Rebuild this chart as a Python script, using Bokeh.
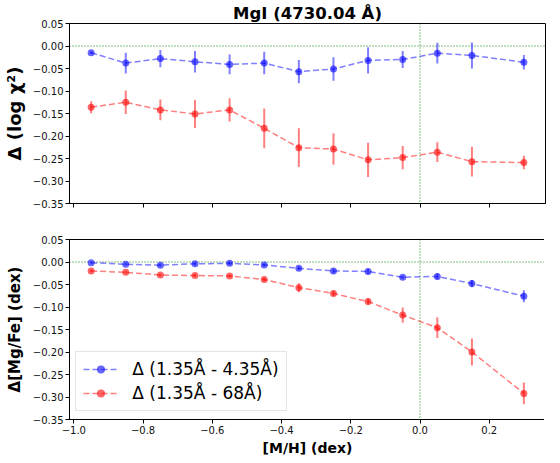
import numpy as np
from bokeh.plotting import figure
from bokeh.layouts import column
from bokeh.models import Span, Legend, LegendItem, FixedTicker, Range1d, ColumnDataSource
from bokeh.embed import file_html
from bokeh.resources import INLINE

# ---- data ----
mh = [-0.95, -0.85, -0.75, -0.65, -0.55, -0.45, -0.35, -0.25, -0.15, -0.05, 0.05, 0.15, 0.30]

chi_blue = [-0.015, -0.038, -0.028, -0.035, -0.041, -0.038, -0.057, -0.051, -0.032, -0.030, -0.016, -0.021, -0.036]
chi_blue_err = [0.003, 0.023, 0.019, 0.024, 0.022, 0.025, 0.026, 0.026, 0.029, 0.019, 0.023, 0.029, 0.016]
chi_red = [-0.136, -0.125, -0.142, -0.151, -0.142, -0.183, -0.226, -0.229, -0.253, -0.248, -0.236, -0.257, -0.259]
chi_red_err = [0.0135, 0.026, 0.023, 0.031, 0.026, 0.044, 0.043, 0.035, 0.038, 0.026, 0.022, 0.033, 0.015]

mgfe_blue = [-0.0015, -0.005, -0.007, -0.004, -0.003, -0.0066, -0.014, -0.020, -0.021, -0.034, -0.032, -0.048, -0.076]
mgfe_blue_err = [0.002, 0.003, 0.003, 0.003, 0.003, 0.003, 0.004, 0.005, 0.006, 0.003, 0.007, 0.008, 0.0135]
mgfe_red = [-0.020, -0.023, -0.029, -0.030, -0.031, -0.039, -0.057, -0.070, -0.088, -0.118, -0.146, -0.200, -0.292]
mgfe_red_err = [0.003, 0.003, 0.003, 0.003, 0.003, 0.004, 0.010, 0.006, 0.007, 0.017, 0.023, 0.030, 0.024]

x_ticks = [-1.0, -0.8, -0.6, -0.4, -0.2, 0.0, 0.2]
x_tick_labels = ["\u22121.0", "\u22120.8", "\u22120.6", "\u22120.4", "\u22120.2", "0.0", "0.2"]
y_ticks = [0.05, 0.0, -0.05, -0.10, -0.15, -0.20, -0.25, -0.30, -0.35]
y_tick_labels = ["0.05", "0.00", "\u22120.05", "\u22120.10", "\u22120.15", "\u22120.20", "\u22120.25", "\u22120.30", "\u22120.35"]

legend_labels = ["\u0394 (1.35\u00c5 - 4.35\u00c5)", "\u0394 (1.35\u00c5 - 68\u00c5)"]
title_text = "MgI (4730.04 \u00c5)"
ylabel_top = "\u0394 (log \u03c7\u00b2)"
ylabel_bottom = "\u0394[Mg/Fe] (dex)"
xlabel = "[M/H] (dex)"

BLUE = "#0000ff"
RED = "#ff0000"
FONT = "DejaVu Sans"


def make_fig(top, bottom, show_xlabels):
    p = figure(frame_width=476, frame_height=180, output_backend="svg", toolbar_location=None,
               x_range=Range1d(-1.0125, 0.3625), y_range=Range1d(-0.35, 0.05),
               min_border_left=67, min_border_right=1, min_border_top=top, min_border_bottom=bottom)
    p.grid.visible = False
    p.outline_line_color = "black"
    p.outline_line_width = 1
    p.background_fill_color = "white"
    p.border_fill_color = "white"
    for ax in (p.xaxis[0], p.yaxis[0]):
        ax.axis_line_color = "black"
        ax.major_tick_out = 4
        ax.major_tick_in = 0
        ax.minor_tick_out = 0
        ax.minor_tick_in = 0
        ax.major_label_text_font = FONT
        ax.major_label_text_font_size = "10px"
        ax.major_label_text_color = "#111111"
        ax.major_label_standoff = 2
        ax.axis_label_text_font = FONT
        ax.axis_label_text_font_style = "bold"
        ax.axis_label_text_color = "black"
    p.xaxis.ticker = FixedTicker(ticks=x_ticks)
    p.yaxis.ticker = FixedTicker(ticks=y_ticks)
    p.yaxis.major_label_overrides = {t: l for t, l in zip(y_ticks, y_tick_labels)}
    if show_xlabels:
        p.xaxis.major_label_overrides = {t: l for t, l in zip(x_ticks, x_tick_labels)}
    else:
        p.xaxis.major_label_overrides = {t: "" for t in x_ticks}
    p.add_layout(Span(location=0, dimension="width", line_color="green", line_dash="1 2", line_width=1, level="underlay"))
    p.add_layout(Span(location=0, dimension="height", line_color="green", line_dash="1 2", line_width=1, level="underlay"))
    return p


def draw_series(p, y, err, color):
    y = np.array(y)
    e = np.array(err)
    src = ColumnDataSource(dict(x=mh, y=y, lo=y - e, hi=y + e))
    p.segment(x0="x", y0="lo", x1="x", y1="hi", source=src, line_color=color, line_alpha=0.5, line_width=2)
    ln = p.line("x", "y", source=src, line_color=color, line_alpha=0.5, line_width=1.5, line_dash="6 3")
    sc = p.scatter("x", "y", source=src, size=7, fill_color=color, fill_alpha=0.6, line_color=color, line_alpha=0.0)
    return ln, sc


p1 = make_fig(16, 18, False)
p1.title.text = title_text
p1.title.align = "center"
p1.title.text_font = FONT
p1.title.text_font_size = "16.5px"
p1.title.text_font_style = "bold"
p1.title.text_color = "black"
p1.title.standoff = 2
p1.title.offset = 0
p1.yaxis.axis_label = ylabel_top
p1.yaxis.axis_label_text_font_size = "18px"
p1.yaxis.axis_label_standoff = 5
draw_series(p1, chi_blue, chi_blue_err, BLUE)
draw_series(p1, chi_red, chi_red_err, RED)

p2 = make_fig(18, 30, True)
p2.yaxis.axis_label = ylabel_bottom
p2.yaxis.axis_label_text_font_size = "15px"
p2.yaxis.axis_label_standoff = 6
p2.xaxis.axis_label = xlabel
p2.xaxis.axis_label_text_font_size = "14px"
p2.xaxis.axis_label_standoff = 3
b_ln, b_sc = draw_series(p2, mgfe_blue, mgfe_blue_err, BLUE)
r_ln, r_sc = draw_series(p2, mgfe_red, mgfe_red_err, RED)

legend = Legend(items=[LegendItem(label=legend_labels[0], renderers=[b_ln, b_sc]),
                       LegendItem(label=legend_labels[1], renderers=[r_ln, r_sc])],
                location="bottom_left", margin=8, padding=7, spacing=4,
                glyph_width=35, glyph_height=20, label_height=20, label_standoff=14,
                label_text_font=FONT, label_text_font_size="17px", label_text_color="black",
                border_line_color="#cccccc", border_line_width=1,
                background_fill_alpha=0.8)
p2.add_layout(legend)

layout = column(p1, p2, spacing=0)
open("out.html", "w").write(file_html(layout, INLINE))
